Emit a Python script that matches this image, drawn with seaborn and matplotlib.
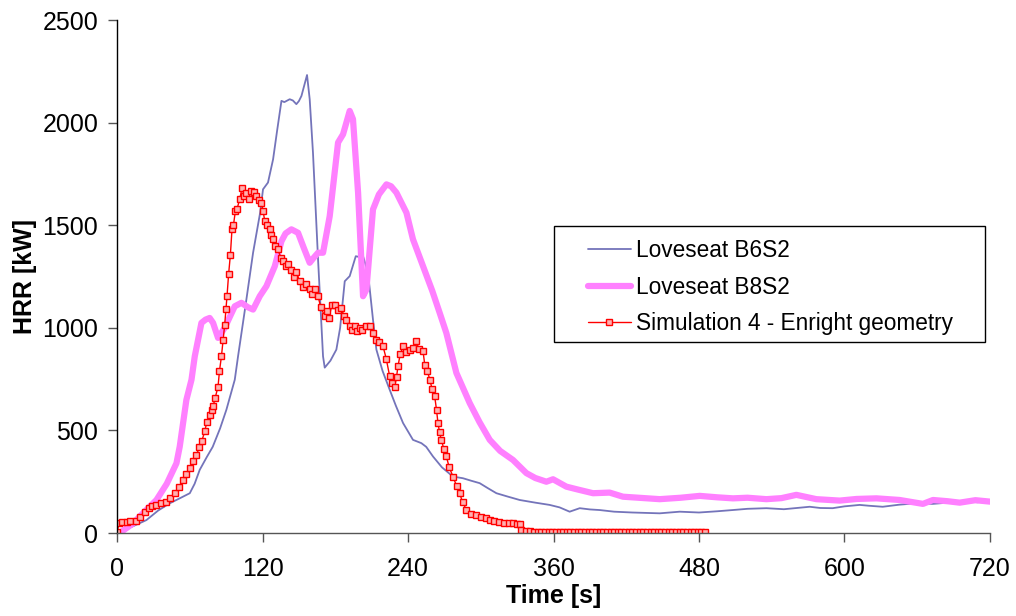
import numpy as np
import pandas as pd
import seaborn as sns
import matplotlib
matplotlib.use('Agg')
import matplotlib.pyplot as plt
from matplotlib.patches import Rectangle

# Loveseat B6S2 (time [s], HRR [kW])
b6s2_t = [0, 12, 24.2, 34, 43.5, 52, 60, 64, 68.2, 74, 78.9, 85, 90.2, 97.1, 99.8, 106, 112.2,
          118, 120.4, 124.5, 128.7, 132, 135.6, 138, 142.4, 145, 147.9, 150, 152.1, 156.7,
          158.9, 161.6, 165.8, 169.9, 171.3, 176, 180.9, 184, 187.8, 191.9, 196.9, 200,
          202.9, 207, 211.1, 213.9, 219, 224.9, 230, 235.9, 244.1, 251, 255, 260.6, 268,
          277.1, 285.3, 292, 299.1, 306, 312.9, 322, 332.1, 345, 356.8, 365, 373.3, 381.6,
          390, 398.1, 410, 425, 447.6, 464.1, 480, 495, 507.8, 520, 535.6, 550, 571.3, 580,
          590.2, 600, 612.5, 620, 631.5, 645, 659.3, 672.7, 685, 700.5, 710, 719.6]
b6s2_hrr = [0, 30, 63, 110, 145, 170, 194, 240, 308, 370, 420, 510, 601, 747, 861, 1110, 1366,
            1560, 1675, 1708, 1821, 1960, 2106, 2100, 2114, 2108, 2090, 2105, 2130, 2232,
            2114, 1854, 1333, 861, 806, 840, 894, 1000, 1227, 1252, 1349, 1345,
            1349, 1268, 1040, 894, 790, 698, 620, 536, 454, 438, 420, 373, 320,
            275, 267, 255, 243, 218, 194, 178, 161, 148, 137, 125, 104, 121,
            115, 112, 104, 100, 96, 104, 100, 106, 112, 118, 121, 116, 128, 122,
            121, 130, 137, 133, 128, 138, 145, 142, 148, 153, 150, 161]

# Loveseat B8S2 (time [s], HRR [kW])
b8s2_t = [0, 2.2, 13.2, 22, 32.5, 41, 49, 51.7, 57.2, 61.4, 64.1, 69.6, 73, 76.4, 79.2, 83.3,
          88.8, 97.1, 102.6, 108, 112.2, 117.7, 123.2, 130.1, 135.6, 139, 143.8, 149.3,
          154, 158.9, 162, 165.8, 169.9, 175.4, 182.3, 186.4, 191.9, 194.6, 198.8, 202.9,
          205.7, 211.1, 216, 222.2, 226, 230.4, 238.7, 244.1, 252.4, 260, 266.1, 271.6,
          279.9, 290.9, 299, 307.4, 316, 326.6, 337.6, 345, 354.1, 359.6, 370.6, 380, 392.6,
          406.3, 417.3, 430, 447.6, 465, 480.6, 495, 508, 520, 535.6, 548, 560.3, 576.8,
          596, 610, 626.3, 645.5, 664.7, 673, 685, 695, 708, 720]
b8s2_hrr = [0, 0, 47, 100, 161, 240, 340, 421, 649, 747, 861, 1024, 1040, 1048, 1024, 951,
            1000, 1105, 1122, 1100, 1089, 1154, 1203, 1300, 1422, 1460, 1480, 1463,
            1390, 1317, 1340, 1366, 1366, 1544, 1903, 1943, 2057, 2017, 1659, 1154,
            1187, 1577, 1650, 1699, 1690, 1659, 1561, 1431, 1300, 1180, 1073, 975,
            780, 633, 540, 454, 400, 356, 292, 268, 250, 262, 226, 212, 194,
            197, 177, 172, 165, 172, 181, 174, 169, 172, 165, 170, 186, 165,
            158, 166, 169, 161, 142, 161, 155, 148, 160, 153]

# Simulation 4 - Enright geometry (time [s], HRR [kW])
sim_t = [0, 1.6, 4, 7.8, 11, 16, 19, 22.8, 26, 29, 32.5, 36, 40.7, 44, 47.6, 51, 54.4, 57, 60,
         63, 65.5, 68, 70, 72.3, 74, 76.4, 78, 79.2, 81, 83.3, 84.5, 86.1, 87.5, 88.8, 89.8,
         90.7, 92, 93.5, 94.8, 96, 97.6, 99, 101.2, 103.1, 105, 106.7, 108.5, 110.8, 113,
         115, 117, 119.1, 120.5, 121.8, 123.5, 125.9, 127, 128.7, 130.5, 132.8, 135, 136.9,
         139, 141, 143.8, 146, 148, 150.7, 153, 156, 158.9, 161, 163, 165.8, 168, 171.3,
         173, 175, 177, 179.5, 182, 185.1, 187, 189, 191.9, 194, 196, 198, 200.2, 202, 205,
         208.4, 211, 213.9, 216, 219.4, 222, 224.9, 227, 229, 230.5, 231.7, 233.5, 235.9,
         238, 241.4, 244, 246.9, 249, 252.4, 253.8, 256, 257.9, 260, 262, 263.5, 264.7, 266,
         267.5, 269.5, 271.6, 274, 277.1, 280, 282.6, 285, 288.2, 292, 296.4, 300, 304,
         307.4, 311, 315, 319, 323, 326.6, 330, 332.1, 333.5, 337, 340.4,
         344, 347, 350, 353, 356, 359, 362, 365, 368, 371, 374, 377, 380, 383, 386, 389,
         392, 395, 398, 401, 404, 407, 410, 413, 416, 419, 422, 425, 428, 431, 434, 437,
         440, 443, 446, 449, 452, 455, 458, 461, 464, 467, 470, 473, 476, 479, 482, 485]
sim_hrr = [3, 47, 52, 55, 57, 60, 80, 104, 120, 130, 137, 145, 153, 170, 194, 225, 259, 290, 316,
           350, 381, 420, 450, 495, 540, 576, 600, 617, 660, 714, 790, 861, 940, 1016, 1090,
           1154, 1260, 1357, 1480, 1500, 1569, 1580, 1627, 1683, 1640, 1659, 1630, 1667, 1660,
           1642, 1625, 1610, 1570, 1520, 1500, 1480, 1450, 1431, 1400, 1382, 1340, 1325,
           1300, 1310, 1284, 1250, 1270, 1227, 1200, 1215, 1187, 1165, 1190, 1154, 1100, 1056,
           1080, 1050, 1110, 1113, 1085, 1097, 1060, 1040, 1007, 990, 1010, 985, 1000, 990, 1010,
           1007, 975, 942, 930, 910, 850, 763, 730, 714, 760, 812, 870, 910,
           880, 894, 900, 934, 895, 885, 820, 790, 747, 700, 666, 600, 536, 490,
           454, 410, 373, 320, 275, 230, 194, 150, 112, 95, 88, 80, 72,
           63, 58, 55, 50, 48, 47, 45, 44, 15, 10, 8,
           6, 6, 5, 6, 5, 6, 6, 5, 5, 6, 5, 6, 5, 5, 6, 5,
           5, 6, 5, 5, 6, 5, 5, 6, 5, 5, 6, 5, 5, 5, 6, 5,
           5, 6, 5, 5, 5, 6, 5, 5, 5, 6, 5, 5, 5, 5, 6, 5]

sns.set_style('white')
plt.rcParams['font.family'] = ['Liberation Sans', 'DejaVu Sans']
plt.rcParams['text.color'] = 'black'
plt.rcParams['axes.labelcolor'] = 'black'
plt.rcParams['xtick.color'] = 'black'
plt.rcParams['ytick.color'] = 'black'

fig = plt.figure(figsize=(10.16, 6.16), dpi=100)
ax = fig.add_axes([0.1152, 0.1347, 0.8592, 0.8328])

sns.lineplot(x=b6s2_t, y=b6s2_hrr, ax=ax, color='#7474BA', linewidth=1.3,
             label='Loveseat B6S2', estimator=None, sort=False)
sns.lineplot(x=b8s2_t, y=b8s2_hrr, ax=ax, color='#FF80FF', linewidth=4.5,
             label='Loveseat B8S2', estimator=None, sort=False)
sns.lineplot(x=sim_t, y=sim_hrr, ax=ax, color='#FF0000', linewidth=1.0,
             marker='s', markersize=4.5, markeredgewidth=1, markeredgecolor='#FF0000',
             markerfacecolor='#FFB0B0', label='Simulation 4 - Enright geometry',
             estimator=None, sort=False)

ax.set_xlim(0, 720)
ax.set_ylim(0, 2500)
ax.set_xticks([0, 120, 240, 360, 480, 600, 720])
ax.set_yticks([0, 500, 1000, 1500, 2000, 2500])
ax.tick_params(axis='both', direction='out', length=6.5, width=1, color='#555555',
               labelcolor='black', labelsize=18, left=True, bottom=True)
ax.tick_params(axis='x', pad=11)
ax.tick_params(axis='y', pad=7)
for s in ['top', 'right']:
    ax.spines[s].set_visible(False)
ax.spines['left'].set_color('black')
ax.spines['bottom'].set_color('#555555')
ax.spines['left'].set_linewidth(1)
ax.spines['bottom'].set_linewidth(1)

ax.set_xlabel('Time [s]', fontsize=18, fontweight='bold', labelpad=2)
ax.set_ylabel('HRR [kW]', fontsize=18, fontweight='bold', labelpad=4)

# legend frame drawn separately (wider side margins than top/bottom)
ax.add_patch(Rectangle((0.501, 0.3723), 0.4933, 0.2261, transform=ax.transAxes,
                       facecolor='white', edgecolor='black', linewidth=1, zorder=4))
leg = ax.legend(loc='upper left', bbox_to_anchor=(0.540, 0.573), fontsize=16.3,
                frameon=False, borderpad=0, handlelength=1.86, handletextpad=0.22,
                labelspacing=0.6, borderaxespad=0)
leg.set_zorder(5)

fig.savefig('out.png', dpi=100)
